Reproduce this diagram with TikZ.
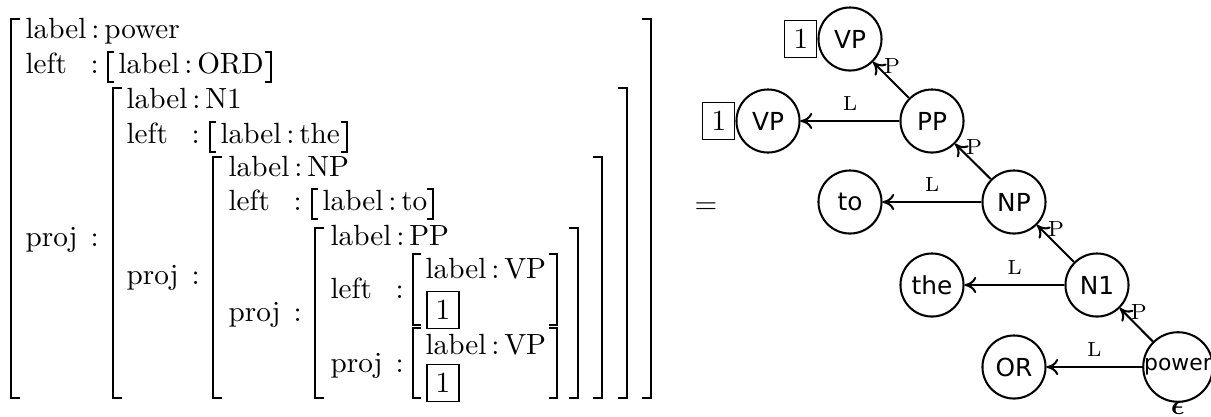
\documentclass[tikz,border=0pt]{standalone}
\usepackage{amsmath}
\usepackage{fontspec}
\usetikzlibrary{arrows.meta}
\newfontfamily\dv{DejaVu Sans}
\newcommand\avmL[5]{\draw[line width=#5] (#1+#4,#2) -- (#1,#2) -- (#1,#3) -- (#1+#4,#3);}
\newcommand\avmR[5]{\draw[line width=#5] (#1-#4,#2) -- (#1,#2) -- (#1,#3) -- (#1-#4,#3);}
\tikzset{
  txt/.style={inner sep=0pt, anchor=base west, font=\fontsize{10}{12}\selectfont},
  cnode/.style={circle, draw, line width=0.7pt, minimum size=21.6pt, inner sep=0pt, font=\dv\fontsize{8.5}{10}\selectfont},
  tagbox/.style={draw, line width=0.4pt, inner sep=3pt, font=\fontsize{10}{12}\selectfont},
  arr/.style={-{To[length=4pt,width=5.5pt]}, line width=0.7pt},
  llab/.style={midway, above, font=\fontsize{7}{8.5}\selectfont},
  plab/.style={pos=1, anchor=center, xshift=6.5pt, yshift=-1.2pt, font=\fontsize{7.5}{9}\selectfont}
}
\begin{document}
\begin{tikzpicture}[x=0.3425pt, y=-0.3425pt, line join=miter]
\useasboundingbox (0,0) rectangle (1211,416);
% ---- outer level
\avmL{11}{19}{398}{9}{0.85pt}
\avmR{651}{19}{398}{9}{0.85pt}
\node[txt] (l0lab) at (25,38) {label\,:\,power};
\node[txt] (l0left) at (25,73) {left};
\node[txt] (l0lc) at (90,73) {:};
\avmL{108}{52}{82}{6}{0.4pt}
\node[txt] (ord) at (118,73) {label\,:\,ORD};
\avmR{271}{52}{82}{6}{0.4pt}
\node[txt] (l0proj) at (25,246) {proj};
\node[txt] (l0pc) at (90,246) {:};
% ---- N1 level
\avmL{113}{88}{398}{9}{0.85pt}
\avmR{627}{88}{398}{9}{0.85pt}
\node[txt] (l1lab) at (126,108) {label\,:\,N1};
\node[txt] (l1left) at (126,143) {left};
\node[txt] (l1lc) at (191,143) {:};
\avmL{210}{122}{152}{6}{0.4pt}
\node[txt] (the1) at (220,143) {label\,:\,the};
\avmR{347}{122}{152}{6}{0.4pt}
\node[txt] (l1proj) at (126,284) {proj};
\node[txt] (l1pc) at (191,284) {:};
% ---- NP level
\avmL{213}{157}{398}{9}{0.85pt}
\avmR{602}{157}{398}{9}{0.85pt}
\node[txt] (l2lab) at (228,176) {label\,:\,NP};
\node[txt] (l2left) at (228,210) {left};
\node[txt] (l2lc) at (293,210) {:};
\avmL{312}{189}{219}{6}{0.4pt}
\node[txt] (to1) at (322,210) {label\,:\,to};
\avmR{433}{189}{219}{6}{0.4pt}
\node[txt] (l2proj) at (228,321) {proj};
\node[txt] (l2pc) at (293,321) {:};
% ---- PP level
\avmL{315}{228}{398}{9}{0.85pt}
\avmR{578}{228}{398}{9}{0.85pt}
\node[txt] (l3lab) at (330,245) {label\,:\,PP};
\node[txt] (l3left) at (330,298) {left};
\node[txt] (l3lc) at (395,298) {:};
\avmL{413}{254}{325}{8}{0.7pt}
\avmR{557}{254}{325}{8}{0.7pt}
\node[txt] (vp1) at (425,278) {label\,:\,VP};
\node[tagbox] (t1) at (443,310) {1};
\node[txt] (l3proj) at (330,372) {proj};
\node[txt] (l3pc) at (395,372) {:};
\avmL{413}{328}{398}{8}{0.7pt}
\avmR{557}{328}{398}{8}{0.7pt}
\node[txt] (vp2) at (425,354) {label\,:\,VP};
\node[tagbox] (t2) at (443,383) {1};
% ---- equals
\node[inner sep=0pt, font=\fontsize{10}{12}\selectfont] (eq) at (706,208) {$=$};
% ---- graph
\node[cnode] (vpt) at (850,39) {VP};
\node[tagbox, anchor=east] (b1) at (vpt.west) {1};
\node[cnode] (pp) at (932,121) {PP};
\node[cnode] (vpl) at (768,121) {VP};
\node[tagbox, anchor=east] (b2) at (vpl.west) {1};
\node[cnode] (np) at (1014,202) {NP};
\node[cnode] (to) at (850,202) {to};
\node[cnode] (n1) at (1097,285) {N1};
\node[cnode] (the) at (932,285) {the};
\node[cnode] (pw) at (1178,367) {\fontsize{7.5}{9}\selectfont power};
\node[cnode] (or) at (1014,367) {OR};
\node[inner sep=0pt] (eps) at (1178,408) {$\boldsymbol{\epsilon}$};
\draw[arr] (pp) -- node[plab] {P} (vpt);
\draw[arr] (pp) -- node[llab] {L} (vpl);
\draw[arr] (np) -- node[plab] {P} (pp);
\draw[arr] (np) -- node[llab] {L} (to);
\draw[arr] (n1) -- node[plab] {P} (np);
\draw[arr] (n1) -- node[llab] {L} (the);
\draw[arr] (pw) -- node[plab] {P} (n1);
\draw[arr] (pw) -- node[llab] {L} (or);
\end{tikzpicture}
\end{document}
